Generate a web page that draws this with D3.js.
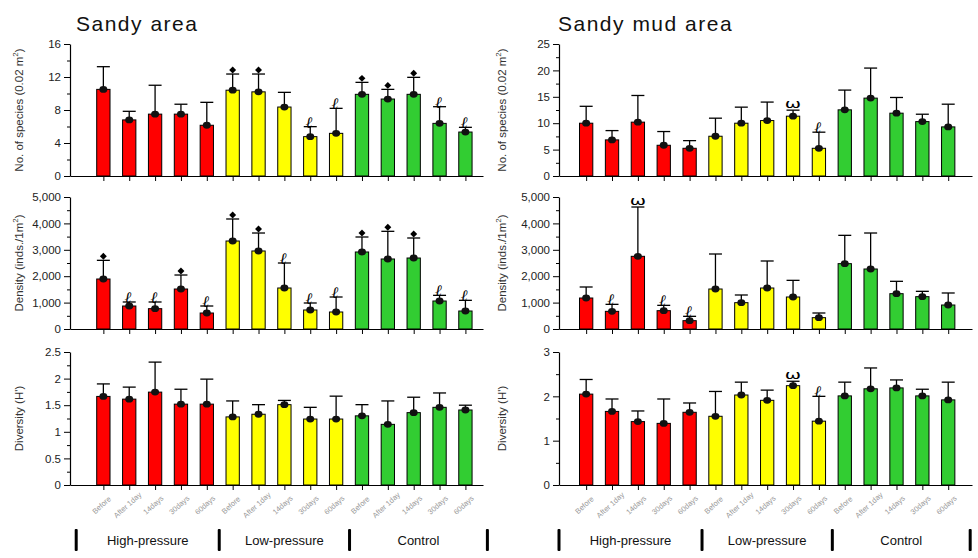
<!DOCTYPE html>
<html><head><meta charset="utf-8">
<script src="https://cdn.jsdelivr.net/npm/d3@7"></script>
<style>body{margin:0;background:#fff}svg{display:block;font-family:"Liberation Sans",Arial,sans-serif}</style>
</head><body><svg id="c" width="978" height="558"></svg>
<script>
const categories = ["Before","After 1day","14days","30days","60days","Before","After 1day","14days","30days","60days","Before","After 1day","14days","30days","60days"];
const groups = ["High-pressure","Low-pressure","Control"];
const groupIndex = [0,0,0,0,0,1,1,1,1,1,2,2,2,2,2];
const groupColors = ["#ff0000","#ffff00","#32cd32"];

const sandySpeciesMean = [10.5,6.8,7.5,7.5,6.15,10.4,10.2,8.36,4.77,5.17,9.9,9.33,9.9,6.38,5.33];
const sandySpeciesSD   = [2.75,1.04,3.5,1.2,2.78,1.96,2.16,1.78,1.21,3.03,1.45,1.17,2.06,2.02,0.57];
const sandySpeciesMark = ["","","","","","d","d","","l","l","d","d","d","l","l"];

const sandyDensityMean = [1894,871,770,1515,606,3333,2955,1553,720,644,2917,2652,2689,1061,682];
const sandyDensitySD   = [707,152,253,530,265,834,681,947,265,568,568,1048,758,214,404];
const sandyDensityMark = ["d","l","l","d","l","d","d","l","l","l","d","d","d","l","l"];

const sandyDiversityMean = [1.665,1.614,1.746,1.52,1.52,1.28,1.33,1.51,1.24,1.24,1.30,1.14,1.36,1.46,1.41];
const sandyDiversitySD   = [0.235,0.226,0.564,0.28,0.47,0.30,0.18,0.08,0.22,0.43,0.21,0.44,0.29,0.27,0.09];
const sandyDiversityMark = ["","","","","","","","","","","","","","",""];

const mudSpeciesMean = [10.0,6.84,10.2,5.82,5.25,7.53,10.0,10.5,11.33,5.25,12.53,14.75,11.9,10.3,9.3];
const mudSpeciesSD   = [3.2,1.76,5.05,2.6,1.45,3.42,3.04,3.5,1.14,3.05,3.74,5.69,2.97,1.4,4.3];
const mudSpeciesMark = ["","","","","","","","","w","l","","","","",""];

const mudDensityMean = [1174,669,2753,694,316,1515,997,1553,1212,429,2475,2273,1338,1225,909];
const mudDensitySD   = [417,265,1868,202,164,1326,291,1023,631,177,1073,1363,468,202,455];
const mudDensityMark = ["","l","w","l","l","","","","","","","","","",""];

const mudDiversityMean = [2.05,1.66,1.43,1.39,1.64,1.55,2.03,1.91,2.24,1.44,2.01,2.17,2.19,2.01,1.92];
const mudDiversitySD   = [0.33,0.28,0.24,0.55,0.21,0.56,0.29,0.23,0.10,0.56,0.31,0.47,0.18,0.15,0.40];
const mudDiversityMark = ["","","","","","","","","w","l","","","","",""];

const titles = ["Sandy area","Sandy mud area"];
const speciesTicks = [[0,4,8,12,16],[0,5,10,15,20,25]];
const densityTicks = [0,1000,2000,3000,4000,5000];
const diversityTicks = [[0,0.5,1,1.5,2,2.5],[0,1,2,3]];

const svg = d3.select("#c");

const cols = [
  {x0:70, x1:483, dom:[-1.29,14.68], labelX:20},
  {x0:559, x1:972, dom:[-1.05,14.92], labelX:503}
];
const rows = [{top:44,bot:176},{top:197,bot:329},{top:352,bot:485}];

function panel(ci, ri, mean, sd, mark, ticks, minorStep, fmt, ylabel, showX){
  const c = cols[ci], r = rows[ri];
  const x = d3.scaleLinear().domain(c.dom).range([c.x0,c.x1]);
  const ymax = ticks[ticks.length-1];
  const y = d3.scaleLinear().domain([0,ymax]).range([r.bot,r.top]);
  const g = svg.append("g");
  const minors = d3.range(minorStep, ymax, minorStep*2);
  g.append("g").attr("transform",`translate(${c.x0},0)`)
    .call(d3.axisLeft(y).tickValues(minors).tickSize(3).tickSizeOuter(0).tickFormat(""))
    .call(s=>s.select(".domain").remove())
    .call(s=>s.selectAll("line").attr("stroke","#000"));
  g.append("g").attr("transform",`translate(${c.x0},0)`)
    .call(d3.axisLeft(y).tickValues(ticks).tickSize(6).tickSizeOuter(0).tickPadding(3).tickFormat(fmt))
    .call(s=>s.select(".domain").attr("stroke","#000").attr("stroke-width",1.2))
    .call(s=>s.selectAll("text").attr("font-size",11.5).attr("fill","#222").attr("font-family",'"Liberation Sans",Arial,sans-serif'));
  g.append("g").attr("transform",`translate(0,${r.bot})`)
    .call(d3.axisBottom(x).tickValues(d3.range(15)).tickSize(5).tickSizeOuter(0).tickFormat(""))
    .call(s=>s.select(".domain").attr("stroke","#000").attr("stroke-width",1.2));
  const bw = 13.3;
  const idx = d3.range(15);
  g.selectAll("rect.bar").data(idx).join("rect")
    .attr("x",i=>x(i)-bw/2).attr("y",i=>y(mean[i])).attr("width",bw).attr("height",i=>y(0)-y(mean[i]))
    .attr("fill",i=>groupColors[groupIndex[i]]).attr("stroke","#000").attr("stroke-width",1);
  g.selectAll("line.err").data(idx).join("line")
    .attr("x1",i=>x(i)).attr("x2",i=>x(i)).attr("y1",i=>y(mean[i])).attr("y2",i=>y(mean[i]+sd[i]))
    .attr("stroke","#000").attr("stroke-width",1.3);
  g.selectAll("line.cap").data(idx).join("line")
    .attr("x1",i=>x(i)-6.5).attr("x2",i=>x(i)+6.5).attr("y1",i=>y(mean[i]+sd[i])).attr("y2",i=>y(mean[i]+sd[i]))
    .attr("stroke","#000").attr("stroke-width",1.3);
  g.selectAll("ellipse.dot").data(idx).join("ellipse")
    .attr("cx",i=>x(i)).attr("cy",i=>y(mean[i])).attr("rx",4).attr("ry",3.4).attr("fill","#111");
  const sq = d3.symbol(d3.symbolSquare, 24)();
  idx.forEach(i=>{
    const m = mark[i]; if(!m) return;
    const cx = x(i), cy = y(mean[i]+sd[i]);
    if(m==="d"){
      g.append("path").attr("d",sq).attr("fill","#000")
        .attr("transform",`translate(${cx},${cy-4}) rotate(45)`);
    } else if(m==="l"){
      g.append("text").attr("x",cx+2).attr("y",cy+1).attr("text-anchor","end")
        .attr("font-size",16).attr("font-style","italic").attr("fill","#000")
        .attr("font-family","DejaVu Serif, serif").text("ℓ");
    } else if(m==="w"){
      g.append("text").attr("x",cx).attr("y",cy-2).attr("text-anchor","middle").attr("fill","#000")
        .attr("font-size",13).attr("font-family","DejaVu Sans, sans-serif")
        .text("ω").attr("transform",`translate(${cx},0) scale(1.5,1) translate(${-cx},0)`);
    }
  });
  const cy = (r.top+r.bot)/2;
  const t = g.append("text").attr("transform",`translate(${c.labelX},${cy}) rotate(-90)`)
    .attr("text-anchor","middle").attr("dominant-baseline","middle")
    .attr("font-size",11.5).attr("fill","#333");
  ylabel.forEach(p=>{
    const ts = t.append("tspan").text(p.t);
    if(p.sup){ ts.attr("baseline-shift","super").attr("font-size",8); }
  });
  if(showX){
    g.selectAll("text.xl").data(idx).join("text")
      .attr("transform",i=>`translate(${x(i)},${r.bot+22}) rotate(-42)`)
      .attr("text-anchor","middle").attr("font-size",7.5).attr("fill","#999").text(i=>categories[i]);
    const sepX = [x(-1.05), x(4.5)-0.5, x(9.5)+0.5, x(14.85)];
    sepX.forEach(sx=>{
      g.append("rect").attr("x",sx-1.5).attr("y",529).attr("width",3).attr("height",22).attr("rx",1).attr("fill","#000");
    });
    groups.forEach((gname,k)=>{
      g.append("text").attr("x",(sepX[k]+sepX[k+1])/2).attr("y",545).attr("text-anchor","middle")
        .attr("font-size",13).attr("fill","#111").text(gname);
    });
  }
}

const fmtInt = d3.format("d");
const fmtComma = d3.format(",");
const fmtDiv = d=>String(d);

svg.append("text").attr("x",76).attr("y",31).attr("font-size",21).attr("letter-spacing",1.5).attr("fill","#111").text(titles[0]);
svg.append("text").attr("x",558).attr("y",31).attr("font-size",21).attr("letter-spacing",1.5).attr("fill","#111").text(titles[1]);

panel(0,0,sandySpeciesMean,sandySpeciesSD,sandySpeciesMark,speciesTicks[0],2,fmtInt,[{t:"No. of species (0.02 m"},{t:"2",sup:true},{t:")"}],false);
panel(0,1,sandyDensityMean,sandyDensitySD,sandyDensityMark,densityTicks,500,fmtComma,[{t:"Density (inds./1m"},{t:"2",sup:true},{t:")"}],false);
panel(0,2,sandyDiversityMean,sandyDiversitySD,sandyDiversityMark,diversityTicks[0],0.25,fmtDiv,[{t:"Diversity (H')"}],true);
panel(1,0,mudSpeciesMean,mudSpeciesSD,mudSpeciesMark,speciesTicks[1],2.5,fmtInt,[{t:"No. of species (0.02 m"},{t:"2",sup:true},{t:")"}],false);
panel(1,1,mudDensityMean,mudDensitySD,mudDensityMark,densityTicks,500,fmtComma,[{t:"Density (inds./1m"},{t:"2",sup:true},{t:")"}],false);
panel(1,2,mudDiversityMean,mudDiversitySD,mudDiversityMark,diversityTicks[1],0.5,fmtDiv,[{t:"Diversity (H')"}],true);
</script></body></html>
